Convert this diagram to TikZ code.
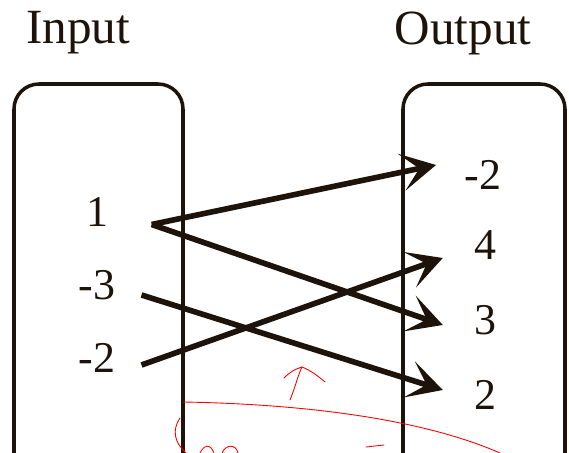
\documentclass[tikz,border=0pt]{standalone}
\usepackage{fontspec}
\setmainfont{Liberation Serif}
\usetikzlibrary{arrows.meta}

\begin{document}
\begin{tikzpicture}[x=0.02cm, y=-0.02cm,
    setbox/.style={draw=black!85!brown, line width=2pt, rounded corners=0.5cm},
    title/.style={font=\fontsize{28}{32}\selectfont, text=black!85!brown},
    num/.style={font=\fontsize{25}{29}\selectfont, text=black!85!brown},
    maparrow/.style={line width=3.2pt, draw=black!85!brown,
        -{Stealth[length=0.7cm, width=0.75cm, inset=0.36cm]}},
    scribble/.style={red, line width=0.5pt, line cap=round}]
    \useasboundingbox (0,0) rectangle (569,453);

    % the two sets
    \draw [setbox] (14,470) -- (14,84) -- (183,84) -- (183,470);
    \draw [setbox] (403,470) -- (403,84) -- (565,84) -- (565,470);

    \node [title] (inp) at (78,33) {Input};
    \node [title] (outp) at (463,33) {Output};

    % input values
    \node [num] (in1) at (97,212) {1};
    \node [num] (in2) at (97,285) {-3};
    \node [num] (in3) at (97,358) {-2};

    % output values
    \node [num] (out1) at (483,175) {-2};
    \node [num] (out2) at (485,245) {4};
    \node [num] (out3) at (485,320) {3};
    \node [num] (out4) at (485,395) {2};

    % mapping
    \draw [maparrow] ([xshift=0.75cm, yshift=-0.25cm]in1.east) -- ([xshift=-0.45cm, yshift=0.2cm]out1.west);
    \draw [maparrow] ([xshift=0.75cm, yshift=-0.25cm]in1.east) -- ([xshift=-0.5cm, yshift=-0.1cm]out3.west);
    \draw [maparrow] ([xshift=0.4cm, yshift=-0.2cm]in2.east) -- ([xshift=-0.5cm, yshift=0.1cm]out4.west);
    \draw [maparrow] ([xshift=0.4cm, yshift=-0.14cm]in3.east) -- ([xshift=-0.5cm, yshift=-0.26cm]out2.west);

    % red pen marks
    \draw [scribble] (183,402) .. controls (300,404) and (420,418) .. (500,453);
    \draw [scribble] (290,400) .. controls (296,385) and (298,375) .. (302,367)
        .. controls (310,370) and (318,376) .. (325,382);
    \draw [scribble] (284,378) .. controls (290,372) and (295,369) .. (302,367);
    \draw [scribble] (180,418) .. controls (172,430) and (174,442) .. (186,453);
    \draw [scribble] (200,453) .. controls (204,445) and (210,443) .. (214,453);
    \draw [scribble] (222,453) .. controls (226,444) and (236,444) .. (238,453);
    \draw [scribble] (366,447) -- (384,445);
\end{tikzpicture}
\end{document}
